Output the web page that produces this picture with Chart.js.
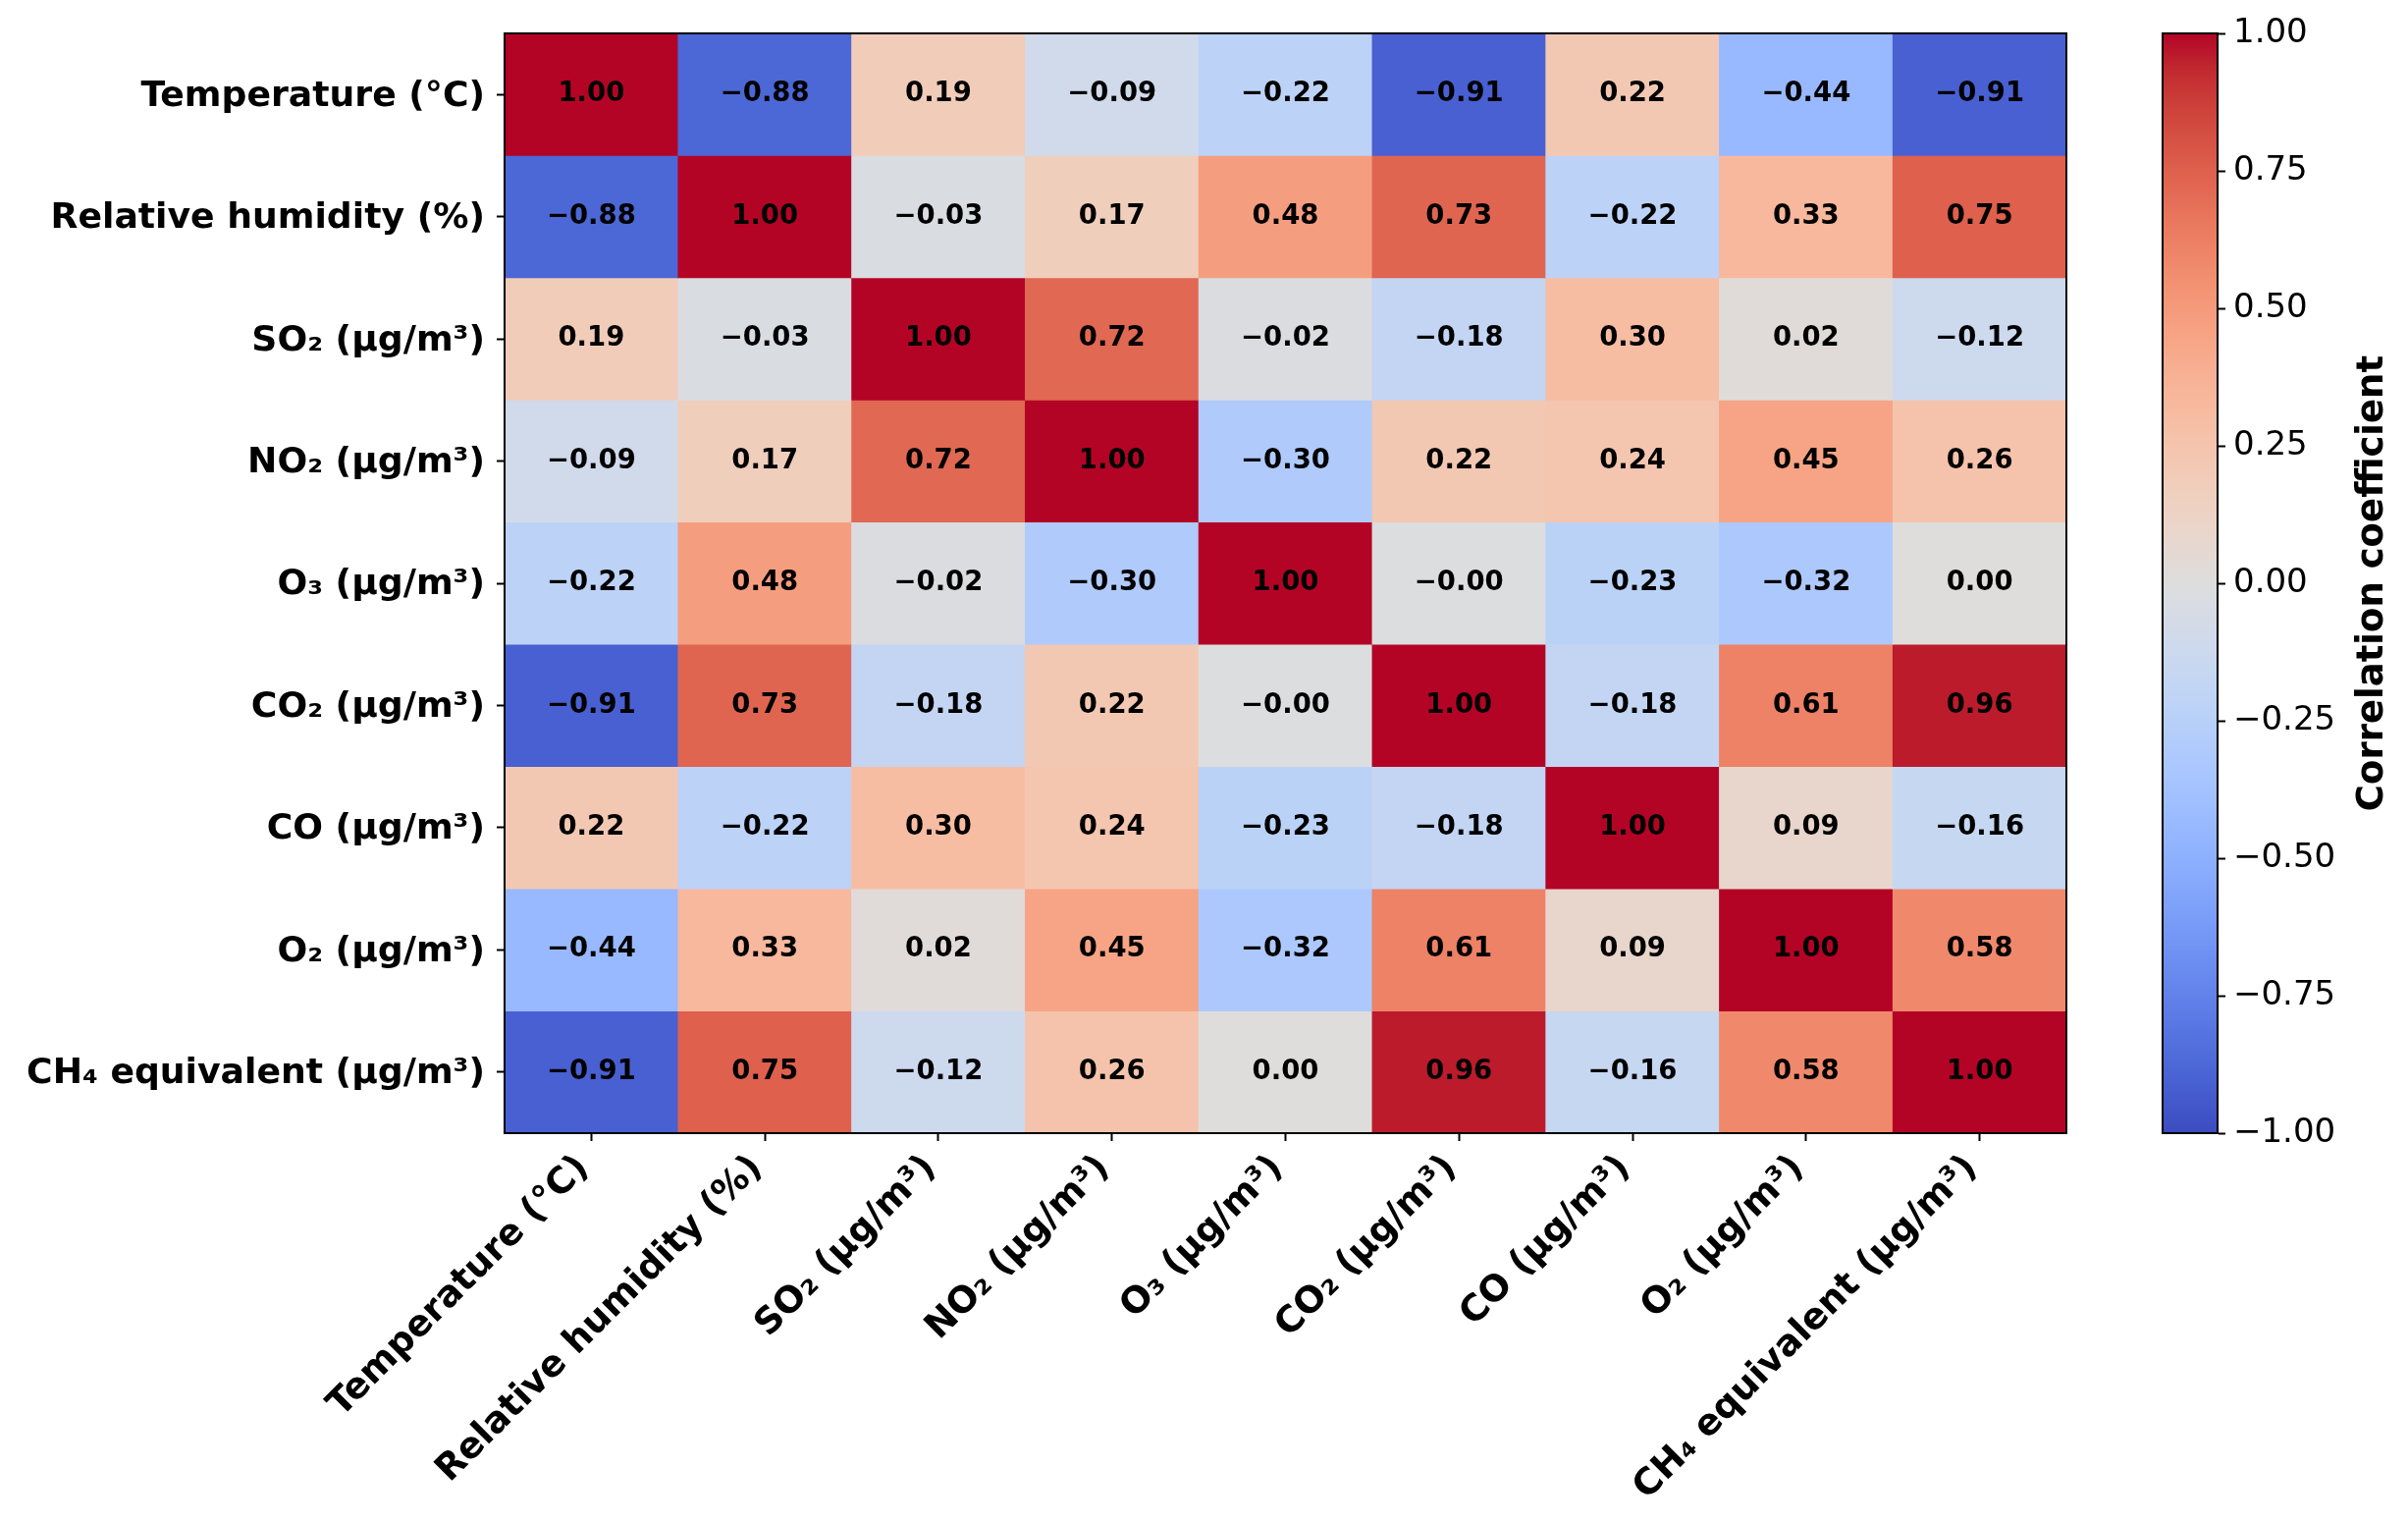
<!DOCTYPE html>
<html>
<head>
<meta charset="utf-8">
<script src="https://cdn.jsdelivr.net/npm/chart.js@4.4.1/dist/chart.umd.min.js"></script>
<style>
  html, body { margin: 0; padding: 0; background: #ffffff; }
  #wrap { position: relative; width: 2453px; height: 1550px; overflow: hidden; background: #fff; }
  #heat { position: absolute; left: 0; top: 0; }
  #cbar { position: absolute; left: 2150px; top: 0; }
</style>
</head>
<body>
<div id="wrap">
  <canvas id="heat" width="2120" height="1550"></canvas>
  <canvas id="cbar" width="303" height="1550"></canvas>
</div>
<script>
// ---------------- DATA ----------------
const variables = [
  'Temperature (°C)',
  'Relative humidity (%)',
  'SO₂ (µg/m³)',
  'NO₂ (µg/m³)',
  'O₃ (µg/m³)',
  'CO₂ (µg/m³)',
  'CO (µg/m³)',
  'O₂ (µg/m³)',
  'CH₄ equivalent (µg/m³)'
];
const rowTemperature = [ 1.00, -0.88,  0.19, -0.09, -0.22, -0.91,  0.22, -0.44, -0.91];
const rowHumidity    = [-0.88,  1.00, -0.03,  0.17,  0.48,  0.73, -0.22,  0.33,  0.75];
const rowSO2         = [ 0.19, -0.03,  1.00,  0.72, -0.02, -0.18,  0.30,  0.02, -0.12];
const rowNO2         = [-0.09,  0.17,  0.72,  1.00, -0.30,  0.22,  0.24,  0.45,  0.26];
const rowO3          = [-0.22,  0.48, -0.02, -0.30,  1.00, -0.004, -0.23, -0.32, 0.004];
const rowCO2         = [-0.91,  0.73, -0.18,  0.22, -0.004, 1.00, -0.18,  0.61,  0.96];
const rowCO          = [ 0.22, -0.22,  0.30,  0.24, -0.23, -0.18,  1.00,  0.09, -0.16];
const rowO2          = [-0.44,  0.33,  0.02,  0.45, -0.32,  0.61,  0.09,  1.00,  0.58];
const rowCH4         = [-0.91,  0.75, -0.12,  0.26,  0.004, 0.96, -0.16,  0.58,  1.00];
const matrix = [rowTemperature, rowHumidity, rowSO2, rowNO2, rowO3, rowCO2, rowCO, rowO2, rowCH4];
const colorbarMin = -1;
const colorbarMax = 1;
const colorbarStep = 0.25;
const colorbarTitle = 'Correlation coefficient';

// ---------------- COLORMAP (coolwarm) ----------------
const coolwarmTable = [
  [59,76,192],[68,90,204],[77,104,215],[87,117,225],[98,130,234],[108,142,241],
  [119,154,247],[130,165,251],[141,176,254],[152,185,255],[163,194,255],[174,201,253],
  [184,208,249],[194,213,244],[204,217,238],[213,219,230],[221,221,221],[229,216,209],
  [236,211,197],[241,204,185],[245,196,173],[247,187,160],[247,177,148],[247,166,135],
  [244,154,123],[241,141,111],[236,127,99],[229,112,88],[222,96,77],[213,80,66],
  [203,62,56],[192,40,47],[180,4,38]
];
function coolwarmT(t) {
  t = Math.max(0, Math.min(1, t));
  const n = coolwarmTable.length - 1;
  const p = t * n;
  const i = Math.min(n - 1, Math.floor(p));
  const f = p - i;
  const a = coolwarmTable[i], b = coolwarmTable[i + 1];
  const c = a.map((v, k) => Math.round(v + (b[k] - v) * f));
  return `rgb(${c[0]},${c[1]},${c[2]})`;
}
function coolwarm(v) {
  return coolwarmT((v - colorbarMin) / (colorbarMax - colorbarMin));
}
function fmt(v) {
  const s = Math.abs(v).toFixed(2);
  return (v < 0 ? '\u2212' : '') + s;
}

Chart.defaults.font.family = "'DejaVu Sans', sans-serif";
Chart.defaults.color = '#000';

const SPINE = 2;
const TICKLEN = 8;

const framePlugin = {
  id: 'frame',
  afterDraw(chart) {
    const {ctx, chartArea: a} = chart;
    ctx.save();
    ctx.strokeStyle = '#000';
    ctx.lineWidth = SPINE;
    ctx.strokeRect(a.left, a.top, a.right - a.left, a.bottom - a.top);
    ctx.restore();
  }
};

const annotatePlugin = {
  id: 'annotate',
  afterDatasetsDraw(chart) {
    const {ctx} = chart;
    ctx.save();
    ctx.font = "bold 27.5px 'DejaVu Sans'";
    ctx.fillStyle = '#000';
    ctx.textAlign = 'center';
    ctx.textBaseline = 'middle';
    chart.data.datasets.forEach((ds, i) => {
      const meta = chart.getDatasetMeta(i);
      meta.data.forEach((el, j) => {
        const p = el.getProps(['x', 'y', 'base'], true);
        ctx.fillText(fmt(matrix[i][j]), p.x, (p.y + p.base) / 2);
      });
    });
    ctx.restore();
  }
};

// ---------------- HEATMAP ----------------
new Chart(document.getElementById('heat'), {
  type: 'bar',
  data: {
    labels: variables,
    datasets: matrix.map((row, i) => ({
      label: variables[i],
      data: row.map(() => [i, i + 1]),
      backgroundColor: row.map(coolwarm),
      borderWidth: 0,
      grouped: false,
      categoryPercentage: 1,
      barPercentage: 1
    }))
  },
  options: {
    responsive: false,
    devicePixelRatio: 1,
    animation: false,
    events: [],
    layout: { padding: { top: 34, right: 15, left: 0, bottom: 0 } },
    plugins: { legend: { display: false }, tooltip: { enabled: false } },
    scales: {
      x: {
        type: 'category',
        offset: true,
        grid: { display: true, drawOnChartArea: false, offset: false, drawTicks: true,
                tickLength: TICKLEN, tickWidth: SPINE, tickColor: '#000' },
        border: { display: true, color: '#000', width: SPINE },
        ticks: { autoSkip: false, maxRotation: 45, minRotation: 45, padding: 6,
                 labelOffset: -8,
                 font: { size: 37, weight: 'bold' }, color: '#000' },
        afterFit(scale) { scale.height = 1550 - 1154; }
      },
      y: {
        type: 'linear',
        min: 0,
        max: variables.length,
        reverse: true,
        grid: { display: true, drawOnChartArea: false, drawTicks: true,
                tickLength: TICKLEN, tickWidth: SPINE, tickColor: '#000' },
        border: { display: true, color: '#000', width: SPINE },
        afterBuildTicks(scale) {
          scale.ticks = variables.map((_, i) => ({ value: i + 0.5 }));
        },
        ticks: {
          autoSkip: false, padding: 12, labelOffset: 2,
          font: { size: 36.2, weight: 'bold' }, color: '#000',
          callback: (value, index) => variables[index]
        },
        afterFit(scale) { scale.width = 514; }
      }
    }
  },
  plugins: [annotatePlugin, framePlugin]
});

// ---------------- COLORBAR ----------------
const cbarTitlePlugin = {
  id: 'cbarTitle',
  afterDraw(chart) {
    const {ctx, chartArea: a} = chart;
    ctx.save();
    ctx.font = "bold 37px 'DejaVu Sans'";
    ctx.fillStyle = '#000';
    ctx.textAlign = 'center';
    ctx.textBaseline = 'alphabetic';
    ctx.translate(chart.scales.y.right - 26, (a.top + a.bottom) / 2);
    ctx.rotate(-Math.PI / 2);
    ctx.fillText(colorbarTitle, 0, 0);
    ctx.restore();
  }
};

new Chart(document.getElementById('cbar'), {
  type: 'bar',
  data: {
    labels: [''],
    datasets: [{
      data: [[colorbarMin, colorbarMax]],
      borderWidth: 0,
      categoryPercentage: 1,
      barPercentage: 1,
      backgroundColor(context) {
        const {chart} = context;
        const a = chart.chartArea;
        if (!a) return null;
        const g = chart.ctx.createLinearGradient(0, a.bottom, 0, a.top);
        const n = 64;
        for (let k = 0; k <= n; k++) g.addColorStop(k / n, coolwarmT(k / n));
        return g;
      }
    }]
  },
  options: {
    responsive: false,
    devicePixelRatio: 1,
    animation: false,
    events: [],
    layout: { padding: { top: 34, right: 0, left: 53, bottom: 1550 - 1154 } },
    plugins: { legend: { display: false }, tooltip: { enabled: false } },
    scales: {
      x: { display: false },
      y: {
        type: 'linear',
        position: 'right',
        min: colorbarMin,
        max: colorbarMax,
        grid: { display: true, drawOnChartArea: false, drawTicks: true,
                tickLength: TICKLEN, tickWidth: SPINE, tickColor: '#000' },
        border: { display: true, color: '#000', width: SPINE },
        ticks: { stepSize: colorbarStep, padding: 8, autoSkip: false,
                 font: { size: 34 }, color: '#000', callback: (v) => fmt(v) },
        afterFit(scale) { scale.width = 303 - 109; }
      }
    }
  },
  plugins: [framePlugin, cbarTitlePlugin]
});
</script>
</body>
</html>
